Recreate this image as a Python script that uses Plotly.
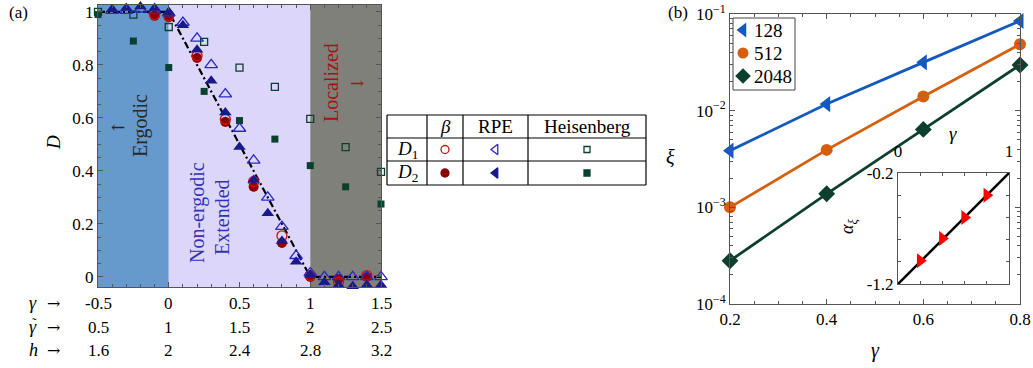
import plotly.graph_objects as go

W, H = 1033, 368
FONT = "Liberation Serif"
ARROW_FONT = "DejaVu Serif"

# ---------------- Panel (a) data ----------------
region_edges = [-0.5, 0.0, 1.0, 1.5]
region_colors = ["rgb(102,153,204)", "rgb(220,214,250)", "rgb(128,128,122)"]

gamma_rpe = [-0.4, -0.3, -0.2, -0.1, 0.0, 0.1, 0.2, 0.3, 0.4, 0.5, 0.6, 0.7, 0.8, 0.9, 1.0, 1.1, 1.2, 1.3, 1.4, 1.5]
rpe_D1 = [1.005, 1.005, 1.01, 1.005, 0.995, 0.96, 0.90, 0.80, 0.69, 0.56, 0.44, 0.30, 0.19, 0.08, 0.015, 0.0, 0.0, 0.0, 0.0, 0.0]
rpe_D2 = [1.01, 1.015, 1.02, 1.015, 1.0, 0.95, 0.857, 0.74, 0.62, 0.49, 0.366, 0.24, 0.136, 0.057, 0.008, -0.02, -0.03, -0.035, -0.03, -0.03]

gamma_beta = [-0.1, 0.0, 0.2, 0.4, 0.6, 0.8, 1.0, 1.2, 1.4]
beta_D1 = [0.99, 0.985, 0.835, 0.595, 0.36, 0.155, 0.005, -0.02, 0.005]
beta_D2 = [0.985, 0.98, 0.826, 0.585, 0.34, 0.128, 0.0, -0.008, 0.0]

gamma_heis = [-0.5, -0.25, 0.0, 0.25, 0.5, 0.75, 1.0, 1.25, 1.5]
heis_D1 = [1.0, 0.99, 0.943, 0.887, 0.79, 0.717, 0.596, 0.49, 0.396]
heis_D2 = [0.99, 0.89, 0.79, 0.70, 0.59, 0.52, 0.42, 0.34, 0.275]

guide_x = [-0.5, 0.0, 1.0, 1.5]
guide_y = [1.0, 1.0, 0.0, 0.0]

tick_gamma = [-0.5, 0.0, 0.5, 1.0, 1.5]
tick_gamma_lbl = ["-0.5", "0", "0.5", "1", "1.5"]
tick_gtilde_lbl = ["0.5", "1", "1.5", "2", "2.5"]
tick_h_lbl = ["1.6", "2", "2.4", "2.8", "3.2"]
row_vars = ["<i>γ</i>", "<i>γ</i>", "<i>h</i>"]

D_ticks = [0, 0.2, 0.4, 0.6, 0.8, 1.0]
D_tick_lbl = ["0", "0.2", "0.4", "0.6", "0.8", "1"]

# ---------------- Panel (b) data ----------------
gamma_b = [0.2, 0.4, 0.6, 0.8]
gamma_b_lbl = ["0.2", "0.4", "0.6", "0.8"]
xi_128 = [3.86e-3, 1.17e-2, 3.16e-2, 8.47e-2]
xi_512 = [1.0e-3, 3.93e-3, 1.40e-2, 4.86e-2]
xi_2048 = [2.8e-4, 1.38e-3, 6.4e-3, 2.97e-2]
series_names = ["128", "512", "2048"]
xi_ticks = [1e-4, 1e-3, 1e-2, 1e-1]
xi_tick_lbl = ["10<sup>−4</sup>", "10<sup>−3</sup>", "10<sup>−2</sup>", "10<sup>−1</sup>"]
xi_minor = [m * 10.0 ** e for e in (-4, -3, -2) for m in range(2, 10)]

inset_gamma = [0.2, 0.4, 0.6, 0.8]
inset_alpha = [-0.99, -0.79, -0.60, -0.40]
inset_fit_x = [0.0, 1.0]
inset_fit_y = [-1.2, -0.2]

c_rpe_f = "rgb(25,25,140)"
c_rpe_o = "rgb(40,40,200)"
c_beta_f = "rgb(140,0,0)"
c_beta_o = "rgb(200,20,20)"
c_heis = "rgb(10,64,48)"
c_128 = "rgb(20,90,190)"
c_512 = "rgb(212,96,15)"
c_2048 = "rgb(13,63,46)"


def fx(px):
    return px / W


def fy(py):
    return 1 - py / H


fig = go.Figure()

# ---- panel (a) traces
fig.add_trace(go.Scatter(x=guide_x, y=guide_y, mode="lines", line=dict(color="black", width=2.2, dash="7px,3px,2px,3px"),
                         xaxis="x", yaxis="y", showlegend=False, hoverinfo="skip"))
fig.add_trace(go.Scatter(x=gamma_heis, y=heis_D1, mode="markers", xaxis="x", yaxis="y", showlegend=False, cliponaxis=False,
                         marker=dict(symbol="square-open", size=7, color=c_heis, line=dict(width=1.3, color=c_heis))))
fig.add_trace(go.Scatter(x=gamma_heis, y=heis_D2, mode="markers", xaxis="x", yaxis="y", showlegend=False, cliponaxis=False,
                         marker=dict(symbol="square", size=7, color=c_heis)))
fig.add_trace(go.Scatter(x=gamma_beta, y=beta_D2, mode="markers", xaxis="x", yaxis="y", showlegend=False, cliponaxis=False,
                         marker=dict(symbol="circle", size=10, color=c_beta_f)))
fig.add_trace(go.Scatter(x=gamma_beta, y=beta_D1, mode="markers", xaxis="x", yaxis="y", showlegend=False, cliponaxis=False,
                         marker=dict(symbol="circle-open", size=10, color=c_beta_o, line=dict(width=1.3, color=c_beta_o))))
fig.add_trace(go.Scatter(x=gamma_rpe, y=rpe_D1, mode="markers", xaxis="x", yaxis="y", showlegend=False, cliponaxis=False,
                         marker=dict(symbol="triangle-up-open", size=11, color=c_rpe_o, line=dict(width=1.3, color=c_rpe_o))))
fig.add_trace(go.Scatter(x=gamma_rpe, y=rpe_D2, mode="markers", xaxis="x", yaxis="y", showlegend=False, cliponaxis=False,
                         marker=dict(symbol="triangle-up", size=11, color=c_rpe_f)))

# ---- panel (b) traces
b_series = [(xi_128, c_128, "triangle-left", 14), (xi_512, c_512, "circle", 12), (xi_2048, c_2048, "diamond", 13)]
for (ys, col, sym, sz), nm in zip(b_series, series_names):
    fig.add_trace(go.Scatter(x=gamma_b, y=ys, mode="lines+markers", line=dict(color=col, width=2.8),
                             marker=dict(symbol=sym, size=sz, color=col), xaxis="x2", yaxis="y2",
                             name=nm, showlegend=False, cliponaxis=False))

fig.add_trace(go.Scatter(x=inset_fit_x, y=inset_fit_y, mode="lines", line=dict(color="black", width=2.5),
                         xaxis="x3", yaxis="y3", showlegend=False, cliponaxis=False))
fig.add_trace(go.Scatter(x=inset_gamma, y=inset_alpha, mode="markers", marker=dict(symbol="triangle-right", size=13, color="red"),
                         xaxis="x3", yaxis="y3", showlegend=False, cliponaxis=False))

# ---- table (legend for panel a) and legend box of panel b on pixel overlay axis
tab_cols = [387, 427, 463, 528, 646]
tab_rows = [115, 138, 161, 185]
col_c = [(tab_cols[i] + tab_cols[i + 1]) / 2 for i in range(4)]
row_c = [(tab_rows[i] + tab_rows[i + 1]) / 2 for i in range(3)]
tab_markers = [
    (1, 1, "circle-open", 8, c_beta_o), (1, 2, "circle", 8, c_beta_f),
    (2, 1, "triangle-left-open", 9, c_rpe_o), (2, 2, "triangle-left", 9, c_rpe_f),
    (3, 1, "square-open", 6, c_heis), (3, 2, "square", 6, c_heis),
]
for ci, ri, sym, sz, col in tab_markers:
    fig.add_trace(go.Scatter(x=[col_c[ci]], y=[row_c[ri]], mode="markers", xaxis="x4", yaxis="y4", showlegend=False,
                             marker=dict(symbol=sym, size=sz, color=col, line=dict(width=1.3, color=col)), cliponaxis=False))

leg_box = [733, 18, 795, 90]
leg_rows = [30, 53, 76]
leg_sym_x = 743
for (ys, col, sym, sz), ly in zip(b_series, leg_rows):
    fig.add_trace(go.Scatter(x=[leg_sym_x], y=[ly], mode="markers", xaxis="x4", yaxis="y4", showlegend=False,
                             marker=dict(symbol=sym, size=sz - 1, color=col), cliponaxis=False))

shapes = []
for i in range(3):
    shapes.append(dict(type="rect", xref="x", yref="y domain", x0=region_edges[i], x1=region_edges[i + 1], y0=0, y1=1,
                       fillcolor=region_colors[i], line=dict(width=0), layer="below"))
for c in tab_cols:
    shapes.append(dict(type="line", xref="paper", yref="paper", x0=fx(c), x1=fx(c), y0=fy(tab_rows[0]), y1=fy(tab_rows[-1]),
                       line=dict(color="black", width=1.2)))
for r in tab_rows:
    shapes.append(dict(type="line", xref="paper", yref="paper", x0=fx(tab_cols[0]), x1=fx(tab_cols[-1]), y0=fy(r), y1=fy(r),
                       line=dict(color="black", width=1.2)))
shapes.append(dict(type="rect", xref="paper", yref="paper", x0=fx(leg_box[0]), x1=fx(leg_box[2]), y0=fy(leg_box[3]),
                   y1=fy(leg_box[1]), line=dict(color="#444", width=1), fillcolor="rgba(0,0,0,0)", layer="below"))

ann = []


def A(x, y, text, size=18, color="black", angle=0, xref="paper", yref="paper", xanchor="center", family=FONT):
    ann.append(dict(x=x, y=y, xref=xref, yref=yref, text=text, showarrow=False, textangle=angle, xanchor=xanchor,
                    yanchor="middle", font=dict(family=family, size=size, color=color)))


rows_y = [303, 327, 350]
for rowy, labels in zip(rows_y, [tick_gamma_lbl, tick_gtilde_lbl, tick_h_lbl]):
    for xv, lb in zip(tick_gamma, labels):
        A(xv, fy(rowy), lb, size=17, xref="x")
for rowy, lb in zip(rows_y, row_vars):
    A(fx(33), fy(rowy), lb, size=18)
    A(fx(53), fy(rowy), "→", size=16, family=ARROW_FONT)
A(fx(34), fy(322), "˜", size=13)

A(fx(53), fy(143), "<i>D</i>", size=19, angle=-90)
A(fx(18), fy(12), "(a)", size=17)
A(fx(678), fy(12), "(b)", size=17)

A(fx(140), fy(126), "Ergodic", size=20, color="rgb(40,40,40)", angle=-90)
A(fx(118), fy(127), "←", size=17, color="rgb(40,40,40)", family=ARROW_FONT)
A(fx(331), fy(83), "Localized", size=20, color="rgb(160,20,20)", angle=-90)
A(fx(357), fy(83), "→", size=17, color="rgb(160,20,20)", family=ARROW_FONT)
A(fx(197), fy(213), "Non-ergodic", size=20, color="rgb(50,50,180)", angle=-90)
A(fx(222), fy(217), "Extended", size=20, color="rgb(50,50,180)", angle=-90)

A(fx(col_c[1]), fy(row_c[0]), "<i>β</i>", size=19)
A(fx(col_c[2]), fy(row_c[0]), "RPE", size=19)
A(fx(col_c[3]), fy(row_c[0]), "Heisenberg", size=19)
A(fx(col_c[0]), fy(row_c[1]), "<i>D</i><sub>1</sub>", size=19)
A(fx(col_c[0]), fy(row_c[2]), "<i>D</i><sub>2</sub>", size=19)

for nm, ly in zip(series_names, leg_rows):
    A(fx(752), fy(ly), nm, size=19, xanchor="left")

A(fx(670), fy(157), "<i>ξ</i>", size=20, angle=0)
A(fx(875), fy(350), "<i>γ</i>", size=20)
A(fx(953), fy(133), "<i>γ</i>", size=19)
A(fx(848), fy(227), "<i>α<sub>ξ</sub></i>", size=18, angle=-90)

axcommon = dict(showgrid=False, zeroline=False, showline=True, linecolor="#555", linewidth=1, mirror="allticks",
                ticks="inside", tickcolor="#555", ticklen=5, tickfont=dict(family=FONT, size=17, color="black"),
                automargin=False)


def minor(d=None, vals=None):
    m = dict(ticks="inside", ticklen=3, tickcolor="#555")
    if d is not None:
        m["dtick"] = d
    if vals is not None:
        m["tickmode"] = "array"
        m["tickvals"] = vals
    return m


fig.update_layout(
    width=W, height=H, margin=dict(l=0, r=0, t=0, b=0, pad=0, autoexpand=False), paper_bgcolor="white",
    plot_bgcolor="rgba(0,0,0,0)", font=dict(family=FONT, size=17, color="black"), showlegend=False,
    xaxis=dict(domain=[fx(98), fx(381)], range=[-0.5, 1.5], anchor="y", tickvals=tick_gamma, showticklabels=False,
               minor=minor(0.1), **axcommon),
    yaxis=dict(domain=[fy(287), fy(5)], range=[-0.038, 1.026], anchor="x", tickvals=D_ticks, ticktext=D_tick_lbl,
               minor=minor(0.05), **axcommon),
    xaxis2=dict(domain=[fx(730), fx(1020)], range=[0.2, 0.8], anchor="y2", tickvals=gamma_b, ticktext=gamma_b_lbl,
                minor=minor(0.05), **axcommon),
    yaxis2=dict(domain=[fy(304), fy(14)], type="log", range=[-4, -1], anchor="x2", tickvals=xi_ticks, ticktext=xi_tick_lbl,
                minor=minor(vals=xi_minor), **axcommon),
    xaxis3=dict(domain=[fx(898), fx(1009)], range=[0, 1], anchor="y3", side="top", tickvals=[0, 1], ticktext=["0", "1"],
                ticklabelstandoff=8, minor=minor(0.2), **axcommon),
    yaxis3=dict(domain=[fy(284), fy(173)], range=[-1.2, -0.2], anchor="x3", tickvals=[-1.2, -0.2], ticktext=["-1.2", "-0.2"],
                minor=minor(0.2), **axcommon),
    xaxis4=dict(domain=[0, 1], range=[0, W], anchor="y4", visible=False, fixedrange=True),
    yaxis4=dict(domain=[0, 1], range=[H, 0], anchor="x4", visible=False, fixedrange=True),
    shapes=shapes, annotations=ann,
)

fig.write_html("out.html")
